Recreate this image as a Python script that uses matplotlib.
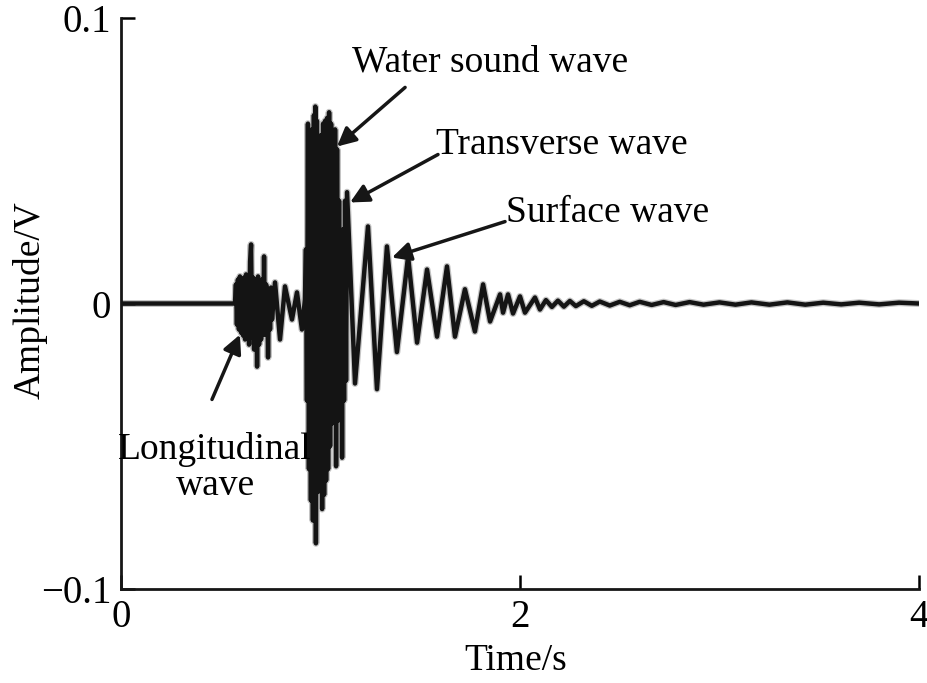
import matplotlib
matplotlib.use("Agg")
import matplotlib.pyplot as plt

plt.rcParams["font.family"] = ["Liberation Serif", "DejaVu Serif"]

# quiet part before the first arrival
quiet_t = [0.0, 0.30, 0.571]
quiet_a = [0.0, 0.0, 0.0]

# longitudinal wave (P arrival)
long_t = [0.576, 0.581, 0.586, 0.591, 0.596, 0.602, 0.607, 0.612, 0.617, 0.622,
          0.627, 0.632, 0.637, 0.642, 0.647, 0.652, 0.657, 0.662, 0.667, 0.672,
          0.677, 0.682, 0.687, 0.692, 0.697, 0.702, 0.707, 0.712, 0.717, 0.722,
          0.727, 0.732, 0.737, 0.742, 0.747, 0.752, 0.757, 0.772, 0.797, 0.822,
          0.857, 0.882, 0.907, 0.922]
long_a = [0.0067, -0.0074, 0.0084, -0.0091, 0.0095, -0.0102, 0.0077, -0.0112, 0.0091, -0.0126,
          0.0102, -0.0119, 0.0084, -0.0144, 0.0147, 0.0207, -0.0119, 0.0091, -0.0161, 0.0084,
          0.0077, -0.0221, 0.0095, -0.0144, 0.0067, -0.0126, 0.0084, -0.0109, 0.0165, -0.0109,
          0.0067, 0.0049, -0.0189, 0.0042, -0.0091, 0.0056, -0.0056, 0.0074, -0.0126, 0.0060,
          -0.0056, 0.0039, -0.0091, 0.0014]

# water sound wave burst
burst_t = [0.927, 0.932, 0.937, 0.942, 0.947, 0.952, 0.957, 0.962, 0.967, 0.972,
           0.974, 0.977, 0.982, 0.987, 0.992, 0.997, 1.003, 1.008, 1.013, 1.018,
           1.023, 1.028, 1.033, 1.038, 1.043, 1.048, 1.053, 1.058, 1.063, 1.068,
           1.073, 1.078, 1.083, 1.088, 1.093, 1.098, 1.103, 1.108, 1.113, 1.118,
           1.123, 1.128, 1.133]
burst_a = [0.019, -0.034, 0.063, -0.058, 0.057, -0.069, 0.061, -0.076, 0.066, -0.070,
           0.069, -0.084, 0.064, -0.066, 0.057, -0.065, 0.059, -0.072, 0.063, -0.067,
           0.064, -0.062, 0.065, -0.058, 0.067, -0.050, 0.063, -0.042, 0.059, -0.038,
           0.061, -0.057, 0.054, -0.041, 0.036, -0.038, 0.019, -0.054, 0.026, -0.034,
           0.036, -0.027, 0.039]

# transverse + surface wave coda
coda_t = [1.173, 1.238, 1.283, 1.333, 1.383, 1.439, 1.484, 1.534, 1.584, 1.634,
          1.674, 1.724, 1.774, 1.815, 1.850, 1.900, 1.915, 1.940, 1.965, 2.000,
          2.025, 2.075, 2.100]
coda_a = [-0.028, 0.027, -0.030, 0.020, -0.017, 0.0165, -0.0137, 0.0119, -0.0116, 0.013,
          -0.0116, 0.005, -0.0098, 0.0067, -0.0063, 0.0032, -0.0032, 0.0032, -0.0035, 0.0025,
          -0.0032, 0.0021, -0.0021]

# tail, nearly flat
tail_t = [2.13, 2.16, 2.19, 2.22, 2.25, 2.28, 2.32, 2.36, 2.40, 2.45,
          2.50, 2.55, 2.60, 2.66, 2.72, 2.78, 2.85, 2.92, 3.00, 3.08,
          3.16, 3.25, 3.34, 3.43, 3.52, 3.61, 3.70, 3.80, 3.90, 4.00]
tail_a = [0.0012, -0.0012, 0.0010, -0.0011, 0.0009, -0.0009, 0.0008, -0.0008, 0.0007, -0.0007,
          0.0006, -0.0006, 0.0006, -0.0005, 0.0005, -0.0005, 0.0005, -0.0004, 0.0004, -0.0004,
          0.0004, -0.0004, 0.0004, -0.0004, 0.0003, -0.0003, 0.0003, -0.0003, 0.0003, 0.0]

t = quiet_t + long_t + burst_t + coda_t + tail_t
amp = quiet_a + long_a + burst_a + coda_a + tail_a

# labels: (text, text position, arrow tail, arrow tip)
labels = [
    ("Water sound wave", (1.85, 0.0845), (1.424, 0.0757), (1.083, 0.055)),
    ("Transverse wave", (2.211, 0.0555), (1.589, 0.0522), (1.148, 0.0354)),
    ("Surface wave", (2.441, 0.0317), (1.925, 0.0287), (1.358, 0.0161)),
    ("Longitudinal\nwave", (0.471, -0.0575), (0.456, -0.0336), (0.596, -0.0109)),
]

fs = 27

fig = plt.figure(figsize=(9.28, 6.83), dpi=100)
ax = fig.add_axes([0.1304, 0.1376, 0.8599, 0.836])

ax.plot(t, amp, color="#8a8a8a", lw=5.0, alpha=0.5, solid_joinstyle="round")
ax.plot(t, amp, color="#141414", lw=3.2, solid_joinstyle="round")

for text, pos, tail, tip in labels:
    ax.text(pos[0], pos[1], text, fontsize=fs, ha="center", va="center", linespacing=1.05)
    ax.annotate("", xy=tip, xytext=tail,
                arrowprops=dict(arrowstyle="-|>", color="#161616", lw=2.5, mutation_scale=28,
                                shrinkA=0, shrinkB=0))

ax.set_xlim(0, 4)
ax.set_ylim(-0.1, 0.1)
ax.set_xticks([0, 2, 4])
ax.set_yticks([-0.1, 0, 0.1])
ax.set_xticklabels(["0", "2", "4"])
ax.set_yticklabels(["\u22120.1", "0", "0.1"])
ax.tick_params(direction="in", length=10, width=1.8, labelsize=28, pad=7)
for s in ["top", "right"]:
    ax.spines[s].set_visible(False)
for s in ["left", "bottom"]:
    ax.spines[s].set_linewidth(2.0)
    ax.spines[s].set_color("#161616")

ax.set_xlabel("Time/s", fontsize=fs)
ax.set_ylabel("Amplitude/V", fontsize=fs)
ax.xaxis.set_label_coords(0.495, -0.095)
ax.yaxis.set_label_coords(-0.092, 0.506)

fig.savefig("out.png", dpi=100)
